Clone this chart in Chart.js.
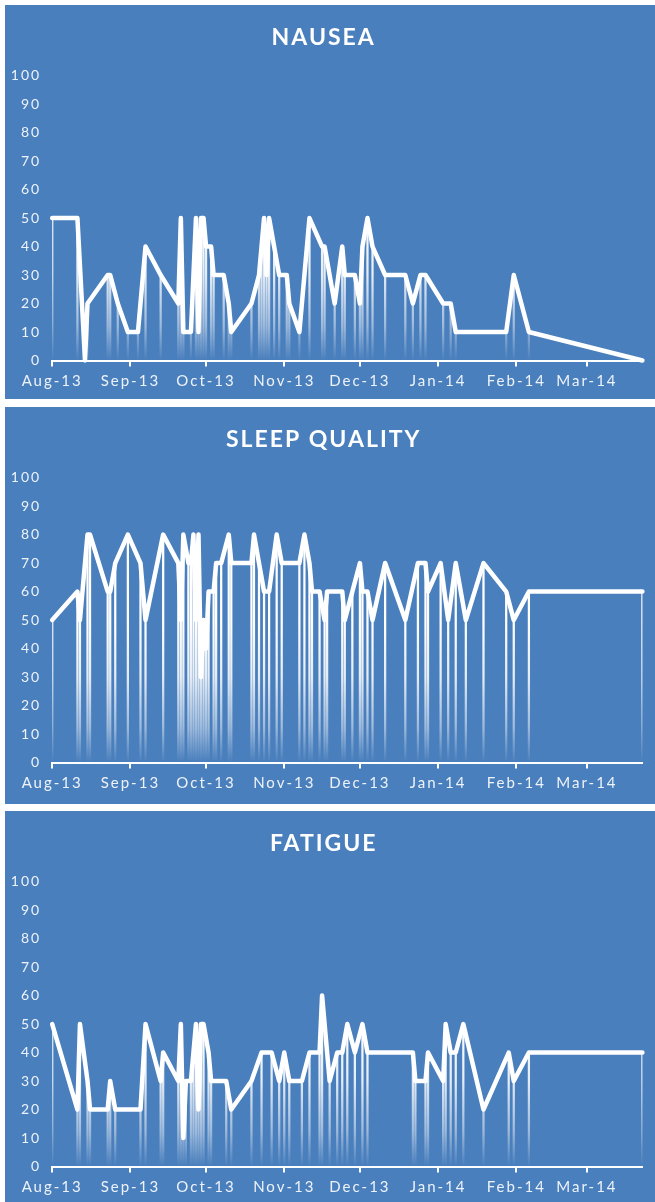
<!DOCTYPE html>
<html><head><meta charset="utf-8">
<script src="https://cdn.jsdelivr.net/npm/chart.js@4.4.1/dist/chart.umd.min.js"></script>
<style>
html,body{margin:0;padding:0;background:#fff;}
body{width:655px;height:1202px;position:relative;overflow:hidden;}
.panel{position:absolute;left:5px;width:650px;background:#4a7fbd;}
canvas{display:block;}
</style></head><body>
<div class="panel" style="top:5px;height:394px"><canvas id="c1" width="650" height="394" style="width:650px;height:394px"></canvas></div>
<div class="panel" style="top:407px;height:397px"><canvas id="c2" width="650" height="397" style="width:650px;height:397px"></canvas></div>
<div class="panel" style="top:811px;height:391px"><canvas id="c3" width="650" height="391" style="width:650px;height:391px"></canvas></div>
<script>
// x values are days since 1 Aug 2013
const monthTickDays = [0, 31, 61, 92, 122, 153, 184, 212];
const monthTickLabels = ['Aug-13','Sep-13','Oct-13','Nov-13','Dec-13','Jan-14','Feb-14','Mar-14'];
const xMaxDay = 234;

const nauseaDays = [0,10,13,14,22,23,26,30,34,37,43,50,51,52,55,57,58,59,60,61,63,64,68,70,71,79,82,83,84,85,86,88,90,93,94,98,102,107,108,112,115,116,120,122,123,125,127,132,140,143,146,148,155,158,160,180,183,189,234];
const nauseaValues = [50,50,0,20,30,30,20,10,10,40,30,20,50,10,10,50,10,50,50,40,40,30,30,20,10,20,30,40,50,30,50,40,30,30,20,10,50,40,40,20,40,30,30,20,40,50,40,30,30,20,30,30,20,20,10,10,30,10,0];

const sleepDays = [0,10,11,14,15,22,23,25,30,35,37,44,50,51,52,54,55,56,57,58,59,60,61,62,64,65,67,70,71,79,80,82,84,86,89,91,98,100,102,103,106,108,109,115,116,119,122,123,125,127,132,140,145,148,149,154,157,160,164,171,180,183,189,234];
const sleepValues = [50,60,50,80,80,60,60,70,80,70,50,80,70,50,80,70,70,80,50,80,30,50,40,60,60,70,70,80,70,70,80,70,60,60,80,70,70,80,70,60,60,50,60,60,50,60,70,60,60,50,70,50,70,70,60,70,50,70,50,70,60,50,60,60];

const fatigueDays = [0,10,11,14,15,22,23,25,35,37,43,44,50,51,52,53,55,56,57,58,59,60,62,63,69,71,79,83,87,90,92,94,99,102,106,107,110,113,115,117,120,123,125,143,144,148,149,155,156,158,160,163,171,181,183,189,234];
const fatigueValues = [50,20,50,30,20,20,30,20,20,50,30,40,30,50,10,30,30,40,50,20,50,50,40,30,30,20,30,40,40,30,40,30,30,40,40,60,30,40,40,50,40,50,40,40,30,30,40,30,50,40,40,50,20,40,30,40,40];

const FONT = 'Lato';
const LABEL_COLOR = 'rgba(255,255,255,0.9)';

const spacingPlugin = {
  id: 'spacing',
  beforeDraw(chart) { chart.ctx.letterSpacing = '2px'; }
};

function dropGradient(context) {
  const chart = context.chart;
  const area = chart.chartArea;
  if (!area) return 'rgba(255,255,255,0.7)';
  const g = chart.ctx.createLinearGradient(0, area.bottom, 0, area.top);
  g.addColorStop(0, 'rgba(255,255,255,0)');
  g.addColorStop(0.12, 'rgba(255,255,255,0.45)');
  g.addColorStop(0.3, 'rgba(255,255,255,0.85)');
  g.addColorStop(0.5, 'rgba(255,255,255,1)');
  g.addColorStop(1, 'rgba(255,255,255,1)');
  return g;
}

function makeChart(id, title, days, values, height) {
  const pts = days.map((d, i) => ({ x: d, y: values[i] }));
  const chartBottom = 355.5;
  return new Chart(document.getElementById(id), {
    type: 'line',
    data: {
      datasets: [
        { type: 'line', data: pts, borderColor: '#ffffff', borderWidth: 4.5, pointRadius: 0,
          tension: 0, borderJoinStyle: 'round', borderCapStyle: 'round', clip: 8, order: 0 },
        { type: 'bar', data: pts, backgroundColor: dropGradient, barThickness: 1.6,
          borderWidth: 0, grouped: false, order: 1 }
      ]
    },
    options: {
      responsive: false,
      animation: false,
      events: [],
      layout: { padding: { left: 0, right: 12.6, top: 0, bottom: 0 } },
      plugins: {
        legend: { display: false },
        tooltip: { enabled: false },
        title: { display: true, text: title, color: '#ffffff',
          font: { family: FONT, size: 23, weight: 'bold', lineHeight: 1.2 },
          padding: { top: 19, bottom: 24 } }
      },
      scales: {
        x: {
          type: 'linear', min: 0, max: xMaxDay, offset: false,
          afterBuildTicks: axis => { axis.ticks = monthTickDays.map(v => ({ value: v })); },
          afterFit: s => { s.height = height - chartBottom; },
          ticks: { callback: (v, i) => monthTickLabels[i], color: LABEL_COLOR,
            font: { family: FONT, size: 15 }, padding: 6, maxRotation: 0, autoSkip: false },
          grid: { display: true, drawOnChartArea: false, drawTicks: true, tickLength: 6,
            color: '#ffffff', lineWidth: 2, offset: false },
          border: { display: true, color: '#ffffff', width: 2 }
        },
        y: {
          min: 0, max: 100,
          afterFit: s => { s.width = 47.2; },
          ticks: { stepSize: 10, color: LABEL_COLOR, font: { family: FONT, size: 14 }, padding: 11 },
          grid: { display: false, drawTicks: false },
          border: { display: false }
        }
      }
    },
    plugins: [spacingPlugin]
  });
}

makeChart('c1', 'NAUSEA', nauseaDays, nauseaValues, 394);
makeChart('c2', 'SLEEP QUALITY', sleepDays, sleepValues, 397);
makeChart('c3', 'FATIGUE', fatigueDays, fatigueValues, 391);
</script>
</body></html>
